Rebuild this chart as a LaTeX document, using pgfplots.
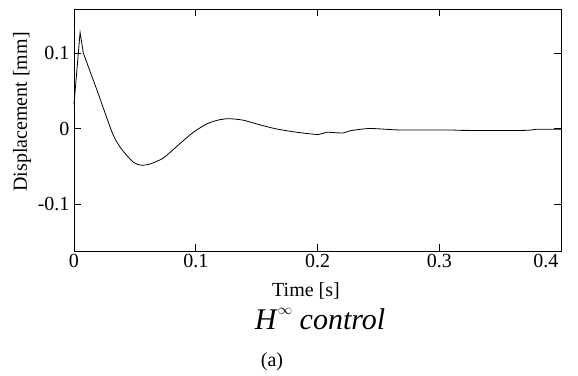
\documentclass[border=0pt]{standalone}
\usepackage{fontspec}
\setmainfont{Liberation Serif}
\usepackage{pgfplots}
\pgfplotsset{compat=1.18}
\begin{document}
\begin{tikzpicture}
\begin{axis}[
  at={(0pt,0pt)}, anchor=south west,
  scale only axis, width=487pt, height=242pt,
  xmin=0, xmax=0.4, ymin=-0.162, ymax=0.158,
  xtick={0,0.1,0.2,0.3}, ytick={-0.1,0,0.1},
  extra x ticks={0.4},
  extra x tick style={grid=none, xticklabel style={anchor=north east, xshift=1pt}},
  tick align=inside, major tick length=7pt,
  axis line style={line width=0.8pt}, tick style={line width=0.7pt, black},
  /pgf/number format/assume math mode=true,
  /pgf/number format/fixed,
  ticklabel style={font=\fontsize{20}{23}\selectfont},
  xticklabel style={yshift=0pt},
  yticklabel style={xshift=-1pt},
  clip=false,
]
\addplot[black, line width=0.8pt] coordinates {(0,0.032) (0.005,0.127) (0.0077,0.0996)};
\addplot[black, line width=0.8pt, smooth, tension=0.4] coordinates {
(0.0077,0.0996) (0.0197,0.047) (0.032,-0.008)
(0.0394,-0.028) (0.049,-0.045) (0.0556,-0.0485) (0.0624,-0.047) (0.0734,-0.039)
(0.087,-0.020) (0.098,-0.005) (0.109,0.006) (0.118,0.011) (0.127,0.013)
(0.139,0.011) (0.150,0.006) (0.166,-0.0005) (0.183,-0.005) (0.2006,-0.008)
(0.2075,-0.005) (0.221,-0.006) (0.2267,-0.003) (0.243,0.0) (0.268,-0.002)
(0.309,-0.002) (0.32,-0.0025) (0.37,-0.0025) (0.38,-0.001) (0.4,-0.001)
};
\end{axis}
\node[font=\fontsize{20}{23}\selectfont] at (232pt,-40pt) {Time [s]};
\node[rotate=90, font=\fontsize{20}{23}\selectfont] at (-52pt,139pt) {Displacement [mm]};
\node[font=\fontsize{30}{34}\selectfont] at (246pt,-68pt) {\textit{H}\raisebox{1.1ex}{\fontsize{14}{16}\selectfont$\infty$}\ \textit{control}};
\node[font=\fontsize{20}{23}\selectfont] at (198pt,-111pt) {(a)};
\pgfresetboundingbox
\path[use as bounding box] (-74pt,-124pt) rectangle (504pt,251pt);
\end{tikzpicture}
\end{document}
